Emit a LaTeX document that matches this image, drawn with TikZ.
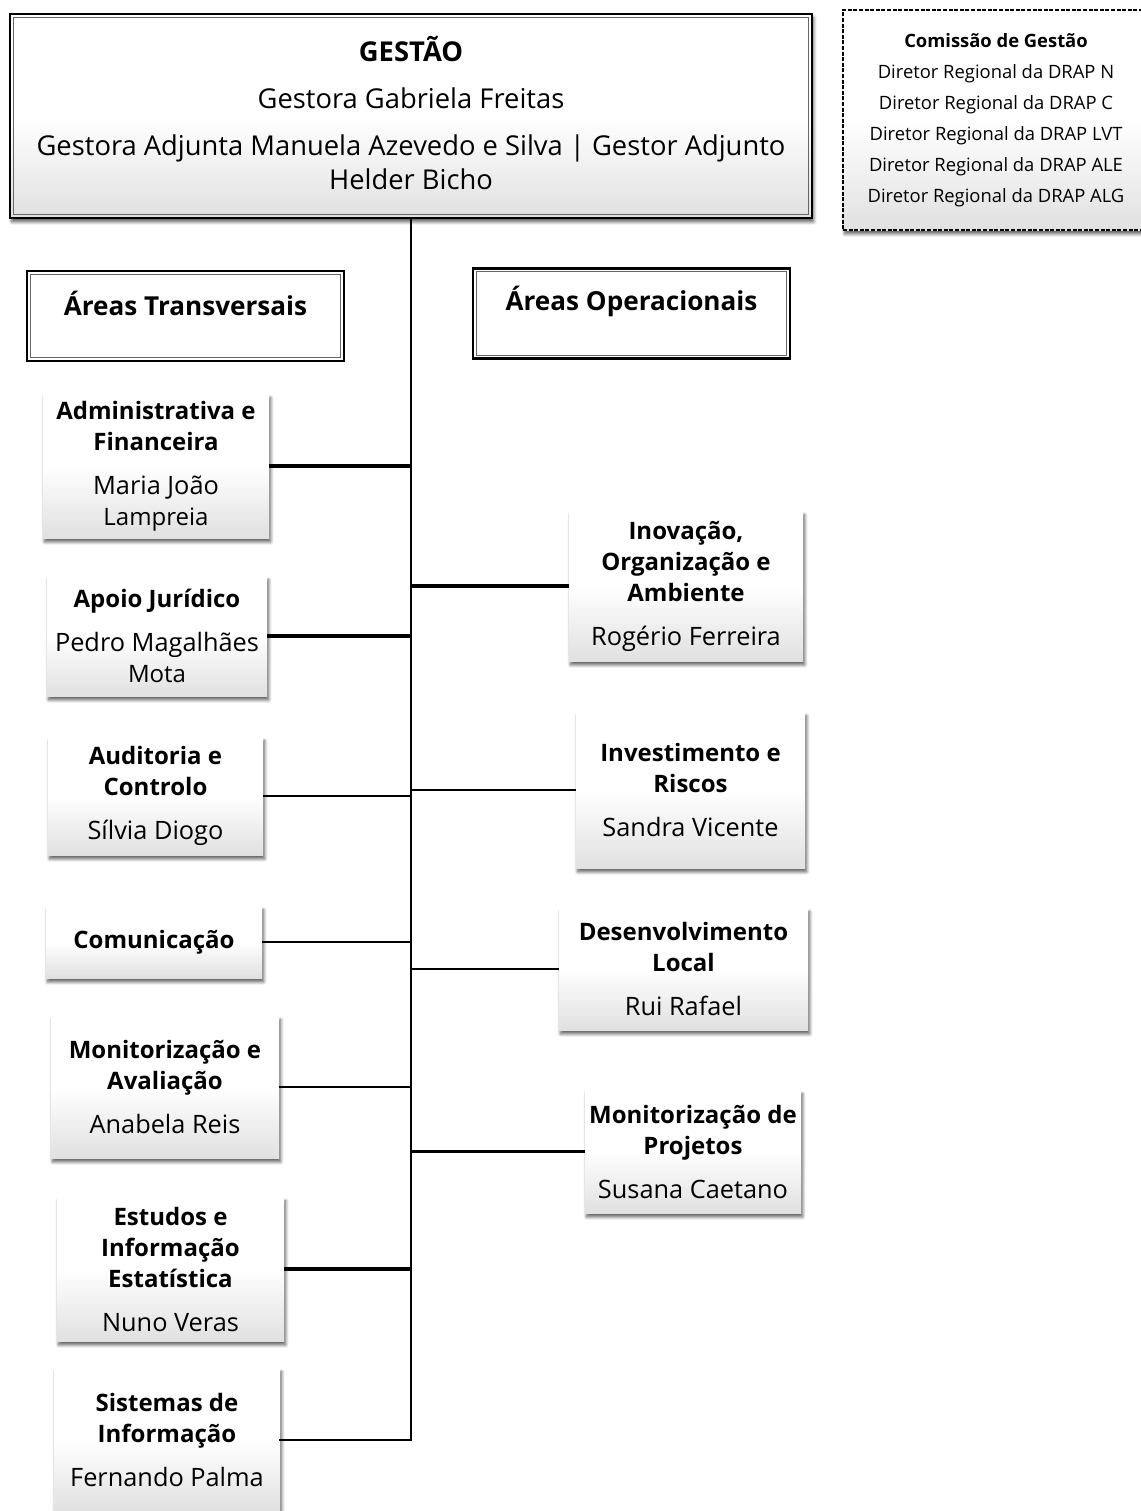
\documentclass[tikz,border=0pt]{standalone}
\usepackage{fontspec}
\setmainfont{Open Sans}
\usetikzlibrary{shadows,shadows.blur}
\newcommand\nmfont{\fontsize{19pt}{23.25pt}\selectfont}
\begin{document}
\begin{tikzpicture}[x=0.75pt,y=-0.75pt,
  every node/.style={inner sep=0pt, outer sep=0pt},
  shd/.style={blur shadow={shadow xshift=1.2pt, shadow yshift=-2.9pt, shadow blur radius=2.4pt, shadow blur steps=8, shadow opacity=65}},
  grad/.style={top color=white, bottom color=black!12, middle color=white},
  unit/.style={rectangle, grad, shd, align=center, font=\fontsize{18pt}{23.25pt}\selectfont},
  dbl/.style={draw=black, line width=#1, path picture={\draw[black!60, line width=0.8pt] ([shift={(2.5pt,-2.5pt)}]path picture bounding box.north west) rectangle ([shift={(-2.5pt,2.5pt)}]path picture bounding box.south east);}},
  areabox/.style={rectangle, fill=white, dbl=1.8pt, minimum width=317*0.75pt, minimum height=90*0.75pt},
  areatxt/.style={font=\fontsize{19.6pt}{23pt}\selectfont\bfseries},
  trunk/.style={line width=2.2pt, line cap=rect},
  cthick/.style={line width=2.3pt},
  cthin/.style={line width=1.5pt}
]
\useasboundingbox (0,0) rectangle (1140,1511);

% top management box
\node[unit, dbl=2.2pt, minimum width=802*0.75pt, minimum height=204*0.75pt,
  font=\fontsize{20.5pt}{25.5pt}\selectfont] (top) at (411,116)
  {\textbf{GESTÃO}\\[9.75pt]Gestora Gabriela Freitas\\[9.75pt]Gestora Adjunta Manuela Azevedo e Silva | Gestor Adjunto\\Helder Bicho\\[-21pt]\mbox{}};

% commission box
\node[unit, draw=black, line width=0.9pt, dash pattern=on 3pt off 1.2pt,
  minimum width=306*0.75pt, minimum height=220*0.75pt,
  font=\fontsize{13.8pt}{23.25pt}\selectfont] (cg) at (996,120)
  {\textbf{Comissão de Gestão}\\Diretor Regional da DRAP N\\Diretor Regional da DRAP C\\Diretor Regional da DRAP LVT\\Diretor Regional da DRAP ALE\\Diretor Regional da DRAP ALG};

% area headers
\node[areabox] (aT) at (185.5,316) {};
\node[areatxt] (aTt) at (185.5,303) {Áreas Transversais};
\node[areabox] (aO) at (631.5,313.5) {};
\node[areatxt] (aOt) at (631.5,301) {Áreas Operacionais};

% transversal units
\node[unit, minimum width=226*0.75pt, minimum height=144*0.75pt] (adm) at (156,466)
  {\textbf{Administrativa e}\\\textbf{Financeira}\\[9.75pt]\nmfont Maria João\\Lampreia};
\node[unit, minimum width=220*0.75pt, minimum height=120*0.75pt] (apo) at (157,636)
  {\textbf{Apoio Jurídico}\\[9.75pt]\nmfont Pedro Magalhães\\Mota};
\node[unit, minimum width=215*0.75pt, minimum height=118*0.75pt] (aud) at (155.5,796)
  {\textbf{Auditoria e}\\\textbf{Controlo}\\[9.75pt]\nmfont Sílvia Diogo};
\node[unit, minimum width=216*0.75pt, minimum height=72*0.75pt] (com) at (154,942)
  {\textbf{Comunicação}};
\node[unit, minimum width=228*0.75pt, minimum height=142*0.75pt] (mon) at (165,1087)
  {\textbf{Monitorização e}\\\textbf{Avaliação}\\[9.75pt]\nmfont Anabela Reis};
\node[unit, minimum width=227*0.75pt, minimum height=144*0.75pt] (est) at (170.5,1269)
  {\textbf{Estudos e}\\\textbf{Informação}\\\textbf{Estatística}\\[9.75pt]\nmfont Nuno Veras};
\node[unit, minimum width=226*0.75pt, minimum height=144*0.75pt] (sis) at (167,1440)
  {\textbf{Sistemas de}\\\textbf{Informação}\\[9.75pt]\nmfont Fernando Palma};

% operational units
\node[unit, minimum width=234*0.75pt, minimum height=150*0.75pt] (ino) at (686,586)
  {\textbf{Inovação,}\\\textbf{Organização e}\\\textbf{Ambiente}\\[9.75pt]\nmfont Rogério Ferreira};
\node[unit, minimum width=229*0.75pt, minimum height=156*0.75pt] (inv) at (690.5,790)
  {\textbf{Investimento e}\\\textbf{Riscos}\\[9.75pt]\nmfont Sandra Vicente};
\node[unit, minimum width=249*0.75pt, minimum height=122*0.75pt] (des) at (683.5,969)
  {\textbf{Desenvolvimento}\\\textbf{Local}\\[9.75pt]\nmfont Rui Rafael};
\node[unit, minimum width=216*0.75pt, minimum height=123*0.75pt] (mpr) at (693,1151.5)
  {\textbf{Monitorização de}\\\textbf{Projetos}\\[9.75pt]\nmfont Susana Caetano};

% connectors
\draw[trunk] (top.south) -- (top.south |- sis.east) -- (sis.east);
\draw[cthick] (adm.east) -- (adm.east -| top.south);
\draw[cthick] (apo.east) -- (apo.east -| top.south);
\draw[cthin] (aud.east) -- (aud.east -| top.south);
\draw[cthin] (com.east) -- (com.east -| top.south);
\draw[cthin] (mon.east) -- (mon.east -| top.south);
\draw[cthick] (est.east) -- (est.east -| top.south);
\draw[cthick] (ino.west) -- (ino.west -| top.south);
\draw[cthin] (inv.west) -- (inv.west -| top.south);
\draw[cthin] (des.west) -- (des.west -| top.south);
\draw[cthick] (mpr.west) -- (mpr.west -| top.south);
\end{tikzpicture}
\end{document}
